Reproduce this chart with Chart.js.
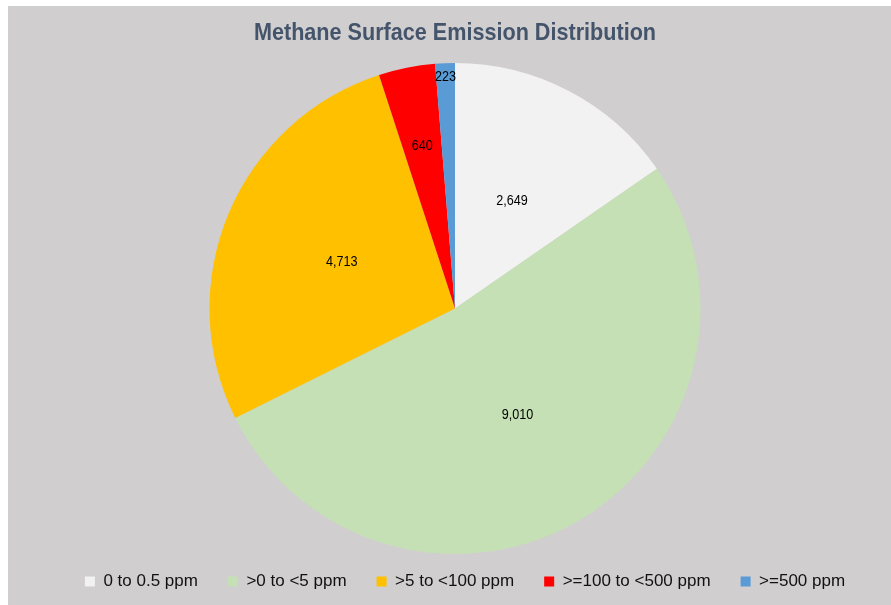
<!DOCTYPE html>
<html>
<head>
<meta charset="utf-8">
<script src="https://cdn.jsdelivr.net/npm/chart.js@4/dist/chart.umd.min.js"></script>
<style>
  html, body { margin: 0; padding: 0; background: #ffffff; }
  #frame {
    position: absolute; left: 8px; top: 6px;
    width: 883px; height: 599px;
    background: #d0cecf;
  }
  #frame canvas { display: block; }
</style>
</head>
<body>
<div id="frame"><canvas id="chart" width="883" height="599"></canvas></div>
<script>
// Emission ranges and the number of readings in each
const categories = ['0 to 0.5 ppm', '>0 to <5 ppm', '>5 to <100 ppm', '>=100 to <500 ppm', '>=500 ppm'];
const counts = [2649, 9010, 4713, 640, 223];
const sliceColors = ['#f2f2f2', '#c5e0b4', '#ffc000', '#ff0000', '#5b9bd5'];
const chartTitle = 'Methane Surface Emission Distribution';

// Where each value label sits, as a fraction of the pie radius
const labelRadius = [0.5, 0.5, 0.5, 0.68, 0.95];

// Draws text squeezed horizontally, to get a narrow face out of Liberation Sans
function drawNarrow(ctx, text, x, y, squeeze) {
  ctx.save();
  ctx.translate(x, y);
  ctx.scale(squeeze, 1);
  ctx.fillText(text, 0, 0);
  ctx.restore();
}

// Condensed bold title above the pie
const narrowTitle = {
  id: 'narrowTitle',
  afterDraw(chart, args, opts) {
    const ctx = chart.ctx;
    ctx.save();
    ctx.font = 'bold 24px "Liberation Sans", Arial';
    ctx.fillStyle = '#44546a';
    ctx.textAlign = 'center';
    ctx.textBaseline = 'middle';
    drawNarrow(ctx, opts.text, (chart.chartArea.left + chart.chartArea.right) / 2, opts.y, 0.9);
    ctx.restore();
  }
};

// Value labels inside the slices, digits centred on their anchor point
const sliceLabels = {
  id: 'sliceLabels',
  afterDatasetsDraw(chart) {
    const ctx = chart.ctx;
    const meta = chart.getDatasetMeta(0);
    const size = 14;
    ctx.save();
    ctx.font = size + 'px "Liberation Sans", Arial';
    ctx.fillStyle = '#000000';
    ctx.textAlign = 'center';
    ctx.textBaseline = 'alphabetic';
    meta.data.forEach((arc, i) => {
      const p = arc.getProps(['x', 'y', 'startAngle', 'endAngle', 'outerRadius'], true);
      const mid = (p.startAngle + p.endAngle) / 2;
      const r = p.outerRadius * labelRadius[i];
      const text = chart.data.datasets[0].data[i].toLocaleString('en-US');
      const x = p.x + Math.cos(mid) * r;
      const y = p.y + Math.sin(mid) * r + size * 0.36;
      drawNarrow(ctx, text, x, y, 0.9);
    });
    ctx.restore();
  }
};

// Moves the legend row a little after layout, leaving the pie size alone
const legendNudge = {
  id: 'legendNudge',
  afterLayout(chart, args, opts) {
    const lg = chart.legend;
    if (!lg) return;
    lg.top += opts.dy; lg.bottom += opts.dy;
    lg.left += opts.dx; lg.right += opts.dx;
  }
};

new Chart(document.getElementById('chart'), {
  type: 'pie',
  data: {
    labels: categories,
    datasets: [{
      data: counts,
      backgroundColor: sliceColors,
      borderWidth: 0
    }]
  },
  options: {
    responsive: false,
    animation: false,
    layout: { padding: { left: 11, right: 0, top: 57, bottom: -6 } },
    plugins: {
      title: { display: false },
      narrowTitle: { text: chartTitle, y: 27 },
      legendNudge: { dx: 10, dy: -11 },
      legend: {
        position: 'bottom',
        labels: {
          color: '#111111',
          font: { family: '"Liberation Sans", Arial', size: 17 },
          boxWidth: 10,
          boxHeight: 10,
          padding: 30
        }
      },
      tooltip: { enabled: false }
    }
  },
  plugins: [sliceLabels, narrowTitle, legendNudge]
});
</script>
</body>
</html>
